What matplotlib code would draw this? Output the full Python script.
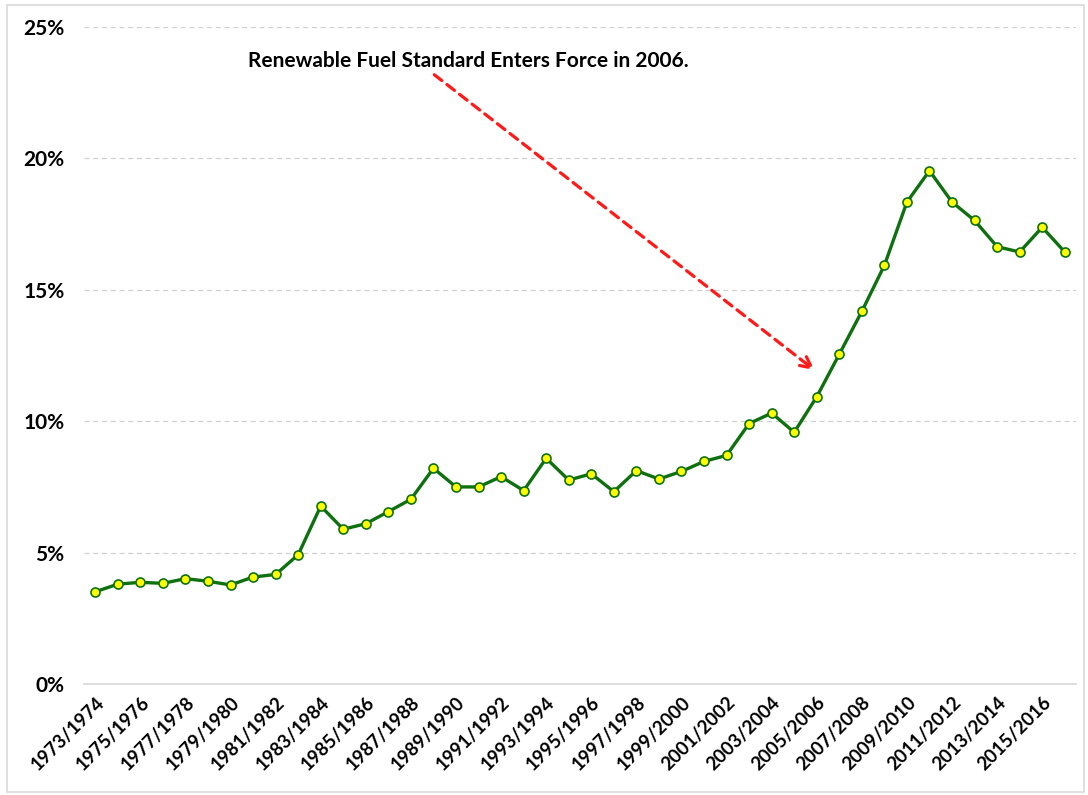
import matplotlib.pyplot as plt
from matplotlib.patches import Rectangle
from matplotlib.ticker import FuncFormatter

plt.rcParams['font.family'] = ['Lato', 'DejaVu Sans']

# Marketing years 1973/1974 .. 2016/2017
years = [f"{y}/{y + 1}" for y in range(1973, 2017)]

# Share (%)
share = [3.51, 3.80, 3.87, 3.83, 4.01, 3.91, 3.77, 4.07, 4.17, 4.92,
         6.77, 5.89, 6.10, 6.56, 7.03, 8.21, 7.50, 7.50, 7.89, 7.36,
         8.59, 7.76, 8.00, 7.32, 8.12, 7.80, 8.09, 8.47, 8.70, 9.91,
         10.31, 9.58, 10.93, 12.55, 14.18, 15.93, 18.34, 19.53, 18.34, 17.64,
         16.64, 16.44, 17.38, 16.44]

x = list(range(len(years)))

fig = plt.figure(figsize=(10.88, 7.95), dpi=100)
ax = fig.add_axes([0.0772, 0.1396, 0.9118, 0.8264])

# chart border like the spreadsheet frame
fig.patches.append(Rectangle((0.0064, 0.004), 0.990, 0.990, transform=fig.transFigure,
                             fill=False, edgecolor='#d9d9d9', linewidth=1.2))

ax.plot(x, share, color='#0f7010', linewidth=2.4, marker='o', markersize=6.5,
        markerfacecolor='#ffff00', markeredgecolor='#0f7010', markeredgewidth=1.2,
        zorder=3)

ax.set_xlim(-0.5, len(years) - 0.5)
ax.set_ylim(0, 25)
ax.set_yticks([0, 5, 10, 15, 20, 25])
ax.yaxis.set_major_formatter(FuncFormatter(lambda v, p: f"{v:.0f}%"))
ax.grid(axis='y', color='#d0d0d0', linestyle='--', linewidth=0.9, dashes=(4, 3))
ax.set_axisbelow(True)

ax.set_xticks(x[::2])
ax.set_xticklabels(years[::2], rotation=45, ha='right', rotation_mode='anchor',
                   fontsize=13.5, fontweight='bold')
for lab in ax.get_yticklabels():
    lab.set_fontsize(15)
    lab.set_fontweight('bold')

for s in ['top', 'right', 'left']:
    ax.spines[s].set_visible(False)
ax.spines['bottom'].set_color('#d9d9d9')
ax.spines['bottom'].set_linewidth(1.2)
ax.tick_params(axis='both', length=0)
ax.tick_params(axis='y', pad=14)
ax.tick_params(axis='x', pad=7)

ax.annotate('', xy=(32.0, 11.88), xytext=(14.94, 23.25),
            arrowprops=dict(arrowstyle='->,head_length=0.8,head_width=0.4',
                            color='#ff1a1a', linestyle=(0, (3, 2)), linewidth=2.3))
ax.text(16.55, 23.7, 'Renewable Fuel Standard Enters Force in 2006.',
        ha='center', va='center', fontsize=15, fontweight='bold')

plt.savefig('out.png', dpi=100)
